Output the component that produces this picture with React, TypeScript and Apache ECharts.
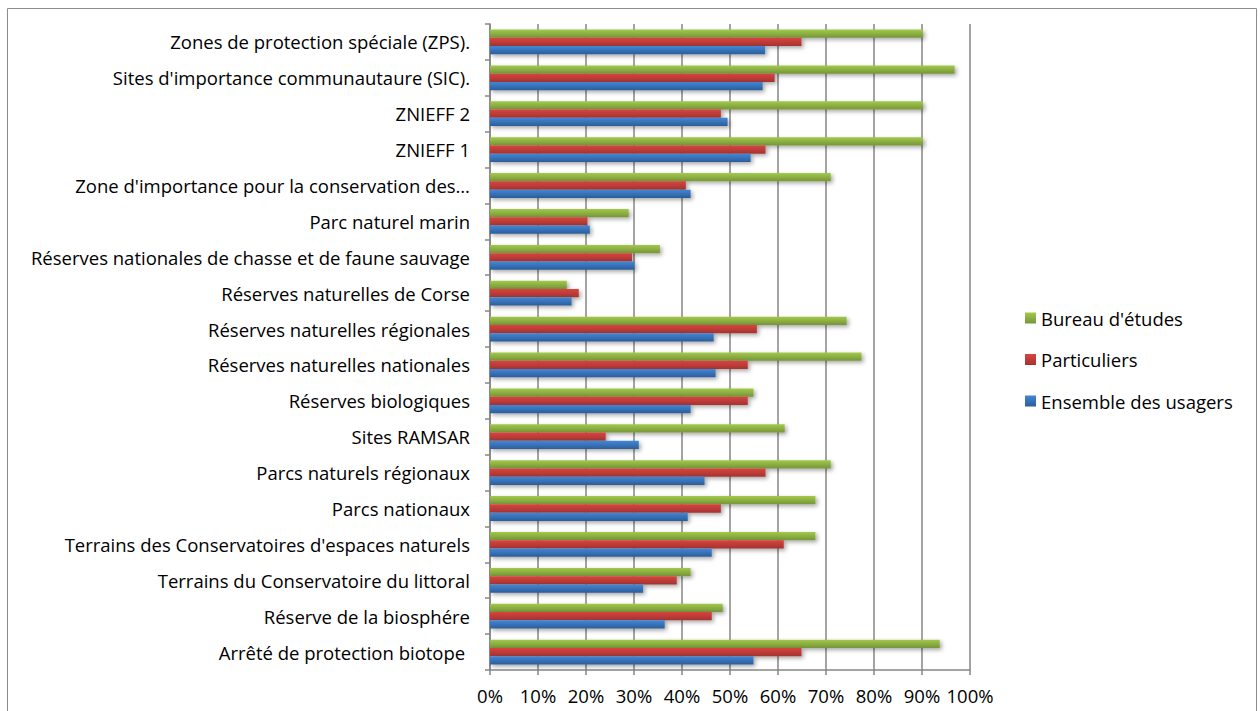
import React, { useEffect, useRef } from "react";
import * as echarts from "echarts";

const categories = [
  "Arrêté de protection biotope ",
  "Réserve de la biosphére",
  "Terrains du Conservatoire du littoral",
  "Terrains des Conservatoires d'espaces naturels",
  "Parcs nationaux",
  "Parcs naturels régionaux",
  "Sites RAMSAR",
  "Réserves biologiques",
  "Réserves naturelles nationales",
  "Réserves naturelles régionales",
  "Réserves naturelles de Corse",
  "Réserves nationales de chasse et de faune sauvage",
  "Parc naturel marin",
  "Zone d'importance pour la conservation des…",
  "ZNIEFF 1",
  "ZNIEFF 2",
  "Sites d'importance communautaure (SIC).",
  "Zones de protection spéciale (ZPS).",
];

const ensemble = [54.9, 36.4, 31.9, 46.2, 41.2, 44.7, 31.0, 41.8, 47.0, 46.6, 17.0, 30.1, 20.8, 41.8, 54.3, 49.5, 56.8, 57.3];
const particuliers = [64.9, 46.2, 38.9, 61.2, 48.1, 57.4, 24.1, 53.7, 53.7, 55.6, 18.5, 29.6, 20.3, 40.8, 57.4, 48.1, 59.3, 64.9];
const bureau = [93.7, 48.5, 41.8, 67.8, 67.8, 71.0, 61.4, 54.9, 77.4, 74.3, 16.0, 35.4, 28.9, 71.0, 90.2, 90.2, 96.8, 90.2];

const xTicks = [0, 10, 20, 30, 40, 50, 60, 70, 80, 90, 100];

const FONT = "'Open Sans', 'Noto Sans', sans-serif";
const FS = 18.5;

function grad(top: string, bottom: string) {
  return new echarts.graphic.LinearGradient(0, 0, 0, 1, [
    { offset: 0, color: top },
    { offset: 1, color: bottom },
  ]);
}

export default function App() {
  const ref = useRef<HTMLDivElement>(null);
  useEffect(() => {
    if (!ref.current) return;
    const chart = echarts.init(ref.current, undefined, { renderer: "svg" });
    const shadow = {
      shadowColor: "rgba(0,0,0,0.35)",
      shadowBlur: 4,
      shadowOffsetX: 2,
      shadowOffsetY: 2,
    };
    chart.setOption({
      animation: false,
      backgroundColor: "#ffffff",
      graphic: [
        {
          type: "rect",
          shape: { x: 7.5, y: 8.5, width: 1249, height: 710 },
          style: { fill: "none", stroke: "#8c8c8c", lineWidth: 1 },
          silent: true,
        },
      ],
      grid: { left: 490, right: 290, top: 24, bottom: 41, containLabel: false },
      legend: {
        data: ["Bureau d'études", "Particuliers", "Ensemble des usagers"],
        orient: "vertical",
        left: 1020,
        top: 303,
        itemWidth: 11,
        itemHeight: 11,
        itemGap: 21.5,
        icon: "rect",
        textStyle: { fontFamily: FONT, fontSize: FS, lineHeight: 20, color: "#000" },
      },
      xAxis: {
        type: "value",
        min: 0,
        max: 100,
        interval: 10,
        axisLabel: {
          formatter: (v: number) => (xTicks.includes(v) ? v + "%" : ""),
          fontFamily: FONT,
          fontSize: FS,
          color: "#000",
          margin: 16,
        },
        axisLine: { show: true, lineStyle: { color: "#868686", width: 1.5 } },
        axisTick: { show: true, length: 5, lineStyle: { color: "#868686", width: 1.5 } },
        splitLine: { show: true, lineStyle: { color: "#868686", width: 1.5 } },
      },
      yAxis: {
        type: "category",
        data: categories,
        axisLabel: {
          fontFamily: FONT,
          fontSize: FS,
          color: "#000",
          margin: 20,
        },
        axisLine: { show: true, lineStyle: { color: "#868686", width: 1.5 } },
        axisTick: { show: true, length: 5, lineStyle: { color: "#868686", width: 1.5 } },
      },
      series: [
        {
          name: "Bureau d'études",
          type: "bar",
          data: bureau,
          barGap: "0%",
          barCategoryGap: "31%",
          itemStyle: { color: grad("#a2c94a", "#76953a"), ...shadow },
        },
        {
          name: "Particuliers",
          type: "bar",
          data: particuliers,
          barGap: "0%",
          barCategoryGap: "31%",
          itemStyle: { color: grad("#d9433f", "#a33431"), ...shadow },
        },
        {
          name: "Ensemble des usagers",
          type: "bar",
          data: ensemble,
          barGap: "0%",
          barCategoryGap: "31%",
          itemStyle: { color: grad("#4287d6", "#2c5d99"), ...shadow },
        },
      ],
    });
    return () => chart.dispose();
  }, []);
  return (
    <div
      ref={ref}
      style={{ position: "fixed", left: 0, top: 0, width: 1260, height: 711 }}
    />
  );
}
